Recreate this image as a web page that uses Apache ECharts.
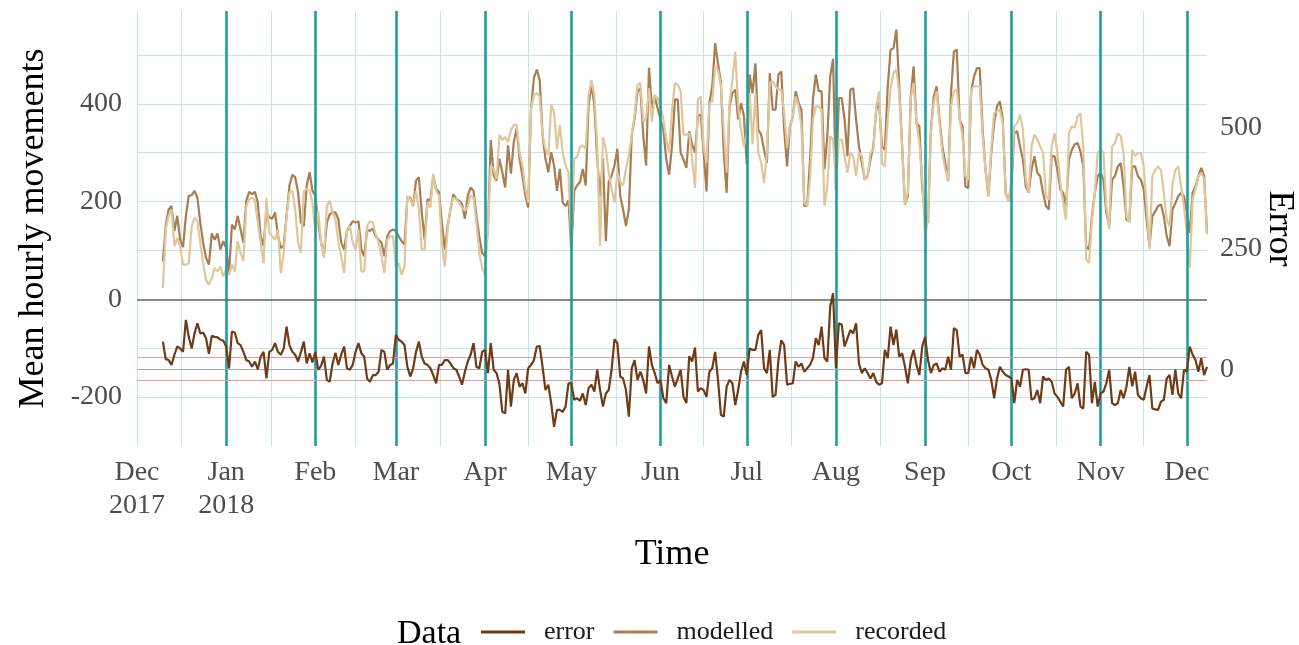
<!DOCTYPE html>
<html>
<head>
<meta charset="utf-8">
<script src="https://cdn.jsdelivr.net/npm/echarts@6/dist/echarts.min.js"></script>
<style>
  html, body { margin: 0; padding: 0; background: #fff; }
  #chart { width: 1299px; height: 645px; }
</style>
</head>
<body>
<div id="chart"></div>
<script>
// daily values, first day 10 Dec 2017, last day 8 Dec 2018
const firstDay = [2017, 11, 10];

const modelled = [
  78,150,184,191,140,171,122,107,171,212,
  213,222,208,157,116,85,71,135,122,135,
  102,119,105,54,153,143,171,143,116,202,
  220,215,220,198,129,110,180,168,165,178,
  130,105,110,171,233,255,250,219,157,150,
  233,260,222,212,157,116,92,157,174,178,
  178,164,116,102,140,150,160,157,160,102,
  88,143,140,145,129,122,116,88,129,140,
  143,140,129,119,112,208,208,191,243,250,
  178,122,205,202,253,226,219,157,102,150,
  184,215,205,202,195,165,212,229,222,171,
  129,95,88,143,326,253,243,288,260,229,
  315,257,322,350,288,253,212,188,391,453,
  470,449,336,288,260,301,274,222,267,198,
  191,202,98,222,233,240,267,233,398,439,
  398,288,212,288,119,240,253,274,308,212,
  184,150,184,336,370,425,432,336,274,474,
  391,415,391,368,347,286,255,313,409,409,
  300,286,269,344,317,300,375,378,300,221,
  402,436,524,483,443,300,218,395,422,429,
  368,402,375,276,460,422,483,347,337,306,
  279,463,388,388,460,466,347,272,354,375,
  426,402,388,191,191,286,409,460,426,426,
  266,334,456,492,225,412,412,368,293,429,
  432,368,313,279,245,252,286,313,388,402,
  313,306,436,511,514,552,436,313,194,211,
  415,477,361,354,225,177,157,347,415,436,
  368,313,279,242,422,507,511,368,354,231,
  228,426,456,473,473,347,266,211,300,361,
  395,405,368,218,201,231,340,344,313,286,
  231,218,266,293,259,252,218,191,184,293,
  293,265,225,218,191,286,306,317,320,303,
  272,109,102,170,218,252,259,245,177,150,
  245,252,272,279,231,163,160,272,272,252,
  245,225,163,109,170,180,191,194,170,129,
  109,184,197,211,218,211,177,136,218,231,
  252,269,252,136
];

const recorded = [
  23,143,171,184,109,126,109,71,71,74,
  150,167,160,116,74,40,30,43,64,57,
  67,47,61,50,71,57,119,95,78,191,
  205,208,202,157,116,74,208,136,129,122,
  143,54,92,171,219,222,184,116,95,222,
  226,222,198,136,181,116,85,191,202,178,
  164,116,88,54,143,150,116,102,143,57,
  57,150,160,157,133,116,88,54,122,129,
  129,67,74,50,67,212,205,191,222,184,
  102,102,198,188,257,222,212,116,67,143,
  188,208,205,198,188,181,191,212,208,157,
  95,64,50,143,274,267,246,336,326,332,
  322,346,357,357,301,274,226,198,391,418,
  422,415,336,308,295,398,384,308,357,301,
  274,260,110,288,291,312,315,308,418,449,
  418,315,109,332,308,260,226,198,260,240,
  233,267,295,336,377,439,443,363,370,432,
  363,418,411,395,368,327,300,388,443,439,
  426,337,337,340,286,228,409,415,313,279,
  402,405,477,470,436,347,259,402,449,507,
  395,347,313,340,422,317,422,300,279,238,
  300,443,446,436,429,429,381,310,354,375,
  415,395,354,197,191,245,368,395,395,388,
  191,231,334,327,231,327,327,293,259,300,
  293,252,300,293,245,249,300,306,395,426,
  279,272,368,432,463,470,422,313,194,218,
  412,443,361,320,245,129,163,340,402,426,
  361,300,266,242,395,426,429,371,334,252,
  245,429,436,436,436,334,266,211,310,381,
  385,388,361,218,201,245,354,361,378,347,
  245,218,313,337,327,313,300,211,204,313,
  340,300,238,197,163,340,354,351,374,381,
  313,82,75,163,218,300,306,300,191,143,
  313,320,340,334,300,170,157,306,293,300,
  300,272,191,102,252,265,272,265,218,163,
  150,235,265,272,231,191,136,65,204,225,
  252,259,245,133
];

const errorVals = [
  57,21,19,9,30,47,43,36,102,67,
  43,74,95,74,76,64,32,69,67,66,
  61,59,47,2,78,76,54,50,36,19,
  16,5,16,0,26,36,-19,36,40,54,
  36,30,43,88,50,36,30,16,36,57,
  12,33,14,36,-1,7,26,-22,-26,12,
  34,9,30,47,2,-1,9,36,54,33,
  26,-19,-26,-12,-12,-5,40,36,-1,9,
  12,71,61,57,50,5,-15,2,36,57,
  26,12,9,2,-12,-29,9,9,19,19,
  12,2,-1,-15,-32,-5,16,30,54,5,
  2,36,40,-8,54,-1,-8,-30,-88,-91,
  -1,-77,-22,-8,-36,-29,-50,2,9,19,
  47,48,5,-43,-32,-70,-119,-84,-84,-88,
  -77,-29,-29,-63,-60,-65,-50,-74,-39,-32,
  -46,-1,-43,-77,-50,-43,-1,62,54,-15,
  -19,-43,-98,2,19,-22,-5,-22,-50,47,
  9,-8,-29,-22,-60,-70,9,-15,-36,-19,
  -1,-57,-70,27,16,45,-46,-39,-43,-57,
  -5,2,36,-22,-94,-98,-36,-22,-29,-74,
  -43,-5,16,-12,43,40,40,71,81,2,
  -8,40,-57,-53,19,60,50,-32,-30,-29,
  16,5,12,-5,2,9,23,64,50,88,
  23,16,129,157,2,95,92,47,64,81,
  74,95,12,-8,2,-8,-19,-8,-26,-32,
  -29,40,23,88,50,82,26,33,5,-29,
  19,40,9,-12,47,67,19,-8,9,12,
  -5,2,-1,26,-1,85,81,26,30,-8,
  -8,26,2,40,30,9,2,-1,-22,-60,
  -19,5,-5,-12,-15,-19,-70,-22,-36,-1,
  0,-1,-63,-60,-43,-70,-15,-22,-19,-26,
  -50,-57,-67,-77,-1,5,-60,-50,-29,-77,
  -81,36,30,-70,-26,-77,-50,-46,-29,-1,
  -70,-74,-70,-43,-60,-36,5,-35,-5,-53,
  -60,-63,-36,-12,-81,-83,-84,-67,-63,-19,
  -12,-53,-1,-50,-60,-1,-5,47,30,19,
  -5,23,-12,5
];

const monthNames = ['Jan','Feb','Mar','Apr','May','Jun','Jul','Aug','Sep','Oct','Nov','Dec'];
const leftLabels = [-200, 0, 200, 400];
const leftGrid = [-200, -100, 0, 100, 200, 300, 400, 500];
const rightLabels = [0, 250, 500];
const errorBands = [24, -23];   // thin red lines on the error scale

const FONT = 'Liberation Serif';
const COL_ERROR = '#6f3b16';
const COL_MODEL = '#a77d52';
const COL_REC = '#dfc69d';
const TEAL = '#1d9fa0';
const GRID = '#c8e5e5';

function dayTs(i) {
  return new Date(firstDay[0], firstDay[1], firstDay[2] + i).getTime();
}
function pairs(arr) {
  return arr.map((v, i) => [dayTs(i), v]);
}

// month starts Dec 2017 .. Dec 2018 and the midpoints between them
const monthStarts = [];
for (let m = 0; m <= 12; m++) monthStarts.push(new Date(2017, 11 + m, 1).getTime());
const gridX = monthStarts.slice();
for (let m = 0; m < 12; m++) gridX.push((monthStarts[m] + monthStarts[m + 1]) / 2);
gridX.sort((a, b) => a - b);

const xMin = monthStarts[0];
const xMax = new Date(2018, 11, 8).getTime();

const chart = echarts.init(document.getElementById('chart'));

chart.setOption({
  animation: false,
  backgroundColor: '#fff',
  grid: { left: 137, right: 92, top: 11, bottom: 199, containLabel: false, outerBoundsMode: 'none' },
  legend: {
    data: ['error', 'modelled', 'recorded'],
    left: 481,
    top: 619,
    padding: 0,
    icon: 'rect',
    itemWidth: 44,
    itemHeight: 3,
    itemGap: 19,
    textStyle: { fontFamily: FONT, fontSize: 26, color: '#1a1a1a', padding: [0, 0, 0, 14] }
  },
  graphic: [{
    type: 'text',
    left: 397,
    top: 617,
    style: { text: 'Data', fontFamily: FONT, fontSize: 34, fill: '#000' }
  }],
  xAxis: {
    type: 'value',
    min: xMin,
    max: xMax,
    name: 'Time',
    nameLocation: 'middle',
    nameGap: 91,
    nameTextStyle: { fontFamily: FONT, fontSize: 36, color: '#000' },
    axisLine: { show: false },
    axisTick: { show: false, customValues: gridX },
    splitLine: { show: true, lineStyle: { color: GRID, width: 1 } },
    axisLabel: {
      customValues: monthStarts,
      margin: 10,
      fontFamily: FONT,
      fontSize: 28,
      lineHeight: 33,
      color: '#4d4d4d',
      hideOverlap: false,
      showMinLabel: true,
      showMaxLabel: true,
      formatter: function (val) {
        const d = new Date(val);
        let s = monthNames[d.getMonth()];
        if (val === monthStarts[0] || val === monthStarts[1]) s += '\n' + d.getFullYear();
        return s;
      }
    }
  },
  yAxis: [{
    type: 'value',
    min: -300,
    max: 590,
    name: 'Mean hourly movements',
    nameLocation: 'middle',
    nameRotate: 90,
    nameGap: 85,
    nameTextStyle: { fontFamily: FONT, fontSize: 36, color: '#000' },
    axisLine: { show: false },
    axisTick: { show: false, customValues: leftGrid },
    splitLine: { show: true, lineStyle: { color: GRID, width: 1 } },
    axisLabel: {
      customValues: leftLabels,
      margin: 15,
      fontFamily: FONT,
      fontSize: 28,
      color: '#4d4d4d'
    }
  }, {
    type: 'value',
    min: -158.5,
    max: 740,
    name: 'Error',
    nameLocation: 'middle',
    nameRotate: -90,
    nameGap: 54,
    nameMoveOverlap: false,
    nameTextStyle: { fontFamily: FONT, fontSize: 36, color: '#000' },
    axisLine: { show: false },
    axisTick: { show: false, customValues: rightLabels },
    splitLine: { show: false },
    axisLabel: {
      customValues: rightLabels,
      margin: 13,
      fontFamily: FONT,
      fontSize: 28,
      color: '#4d4d4d'
    }
  }],
  series: [
    {
      name: 'monthLines',
      type: 'line',
      data: [],
      z: 2,
      silent: true,
      markLine: {
        silent: true,
        symbol: ['none', 'none'],
        label: { show: false },
        lineStyle: { color: TEAL, width: 2.6, type: 'solid' },
        data: monthStarts.slice(1).map(t => ({ xAxis: t }))
      }
    },
    {
      name: 'zeroLine',
      type: 'line',
      data: [],
      z: 2,
      silent: true,
      markLine: {
        silent: true,
        symbol: ['none', 'none'],
        label: { show: false },
        lineStyle: { color: '#666666', width: 1.6, type: 'solid' },
        data: [{ yAxis: 0 }]
      }
    },
    {
      name: 'errorRefs',
      type: 'line',
      yAxisIndex: 1,
      data: [],
      z: 2,
      silent: true,
      markLine: {
        silent: true,
        symbol: ['none', 'none'],
        label: { show: false },
        lineStyle: { color: '#a8a8a8', width: 1, type: 'solid' },
        data: [
          { yAxis: 0 },
          { yAxis: errorBands[0], lineStyle: { color: '#e99a9a', width: 1, type: 'solid' } },
          { yAxis: errorBands[1], lineStyle: { color: '#e99a9a', width: 1, type: 'solid' } }
        ]
      }
    },
    {
      name: 'error',
      type: 'line',
      yAxisIndex: 1,
      data: pairs(errorVals),
      showSymbol: false,
      z: 5,
      itemStyle: { color: COL_ERROR },
      lineStyle: { color: COL_ERROR, width: 2.2 }
    },
    {
      name: 'modelled',
      type: 'line',
      data: pairs(modelled),
      showSymbol: false,
      z: 4,
      itemStyle: { color: COL_MODEL },
      lineStyle: { color: COL_MODEL, width: 2.2 }
    },
    {
      name: 'recorded',
      type: 'line',
      data: pairs(recorded),
      showSymbol: false,
      z: 4,
      itemStyle: { color: COL_REC },
      lineStyle: { color: COL_REC, width: 2.2 }
    }
  ]
});
</script>
</body>
</html>
